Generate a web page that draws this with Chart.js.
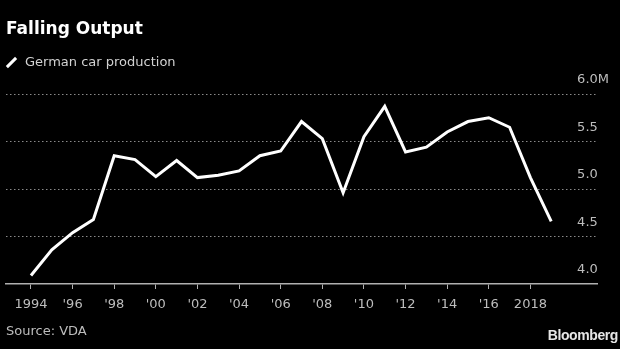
<!DOCTYPE html>
<html>
  <head>
    <title>Falling Output</title>
    <style>
      body {
        margin: 0;
        background: #000;
      }
      .wrap {
        position: relative;
        width: 620px;
        height: 349px;
        background: #000;
        overflow: hidden;
        font-family: "DejaVu Sans", sans-serif;
      }
      .wrap canvas {
        position: absolute;
        left: 0;
        top: 0;
      }
      .title {
        position: absolute;
        left: 6px;
        top: 18px;
        font-size: 17px;
        font-weight: bold;
        color: #fff;
      }
      .legend {
        position: absolute;
        left: 25px;
        top: 54px;
        font-size: 13px;
        color: #d2d2d2;
      }
      .legend-mark {
        position: absolute;
        left: 5px;
        top: 61px;
        width: 13px;
        height: 3px;
        background: #fff;
        transform: rotate(-45deg);
      }
      .source {
        position: absolute;
        left: 6px;
        top: 323px;
        font-size: 13px;
        color: #bdbdbd;
      }
      .brand {
        position: absolute;
        right: 2px;
        top: 327px;
        font-family: "Liberation Sans", Arial, sans-serif;
        font-size: 14px;
        font-weight: bold;
        letter-spacing: -0.4px;
        color: #e6e6e6;
      }
    </style>
  </head>
  <body>
    <div class="wrap">
      <canvas id="chart" width="620" height="349"></canvas>
      <div class="title">Falling Output</div>
      <div class="legend-mark"></div>
      <div class="legend">German car production</div>
      <div class="source">Source: VDA</div>
      <div class="brand">Bloomberg</div>
    </div>

    <script src="https://cdn.jsdelivr.net/npm/chart.js"></script>
    <script>
      // Produccion anual de autos en Alemania (millones)
      var years = [
        1994, 1995, 1996, 1997, 1998, 1999, 2000, 2001, 2002, 2003, 2004,
        2005, 2006, 2007, 2008, 2009, 2010, 2011, 2012, 2013, 2014, 2015,
        2016, 2017, 2018, 2019,
      ];
      var production = [
        4.09, 4.36, 4.54, 4.68, 5.35, 5.31, 5.13, 5.3, 5.12, 5.145, 5.19,
        5.35, 5.4, 5.71, 5.53, 4.96, 5.55, 5.87, 5.39, 5.44, 5.6, 5.71,
        5.75, 5.65, 5.12, 4.66,
      ];

      // Etiquetas de los ejes
      var xTickYears = [
        1994, 1996, 1998, 2000, 2002, 2004, 2006, 2008, 2010, 2012, 2014,
        2016, 2018,
      ];
      var xTickLabels = [
        "1994", "'96", "'98", "'00", "'02", "'04", "'06", "'08", "'10",
        "'12", "'14", "'16", "2018",
      ];
      var yTicks = [4, 4.5, 5, 5.5, 6];
      var yTickLabels = ["4.0", "4.5", "5.0", "5.5", "6.0M"];

      var puntos = years.map(function (y, i) {
        return { x: y, y: production[i] };
      });

      new Chart(document.getElementById("chart"), {
        type: "line",
        data: {
          datasets: [
            {
              label: "German car production",
              data: puntos,
              borderColor: "#fff",
              borderWidth: 3,
              pointRadius: 0,
              tension: 0,
            },
          ],
        },
        options: {
          responsive: false,
          animation: false,
          devicePixelRatio: 1,
          layout: { padding: { top: 94, left: 6, right: 0, bottom: 0 } },
          plugins: {
            legend: { display: false },
            tooltip: { enabled: false },
          },
          scales: {
            x: {
              type: "linear",
              min: 1992.8,
              max: 2021.2,
              afterBuildTicks: function (scale) {
                scale.ticks = xTickYears.map(function (v) {
                  return { value: v };
                });
              },
              afterFit: function (scale) {
                scale.height = 65;
              },
              ticks: {
                color: "#bdbdbd",
                font: { family: "DejaVu Sans", size: 13 },
                padding: 8,
                maxRotation: 0,
                autoSkip: false,
                callback: function (value) {
                  var i = xTickYears.indexOf(value);
                  return i >= 0 ? xTickLabels[i] : "";
                },
              },
              grid: {
                drawOnChartArea: false,
                drawTicks: true,
                tickLength: 5,
                tickColor: "#b0b0b0",
              },
              border: { display: true, color: "#b0b0b0", width: 1.5 },
            },
            y: {
              position: "right",
              min: 4,
              max: 6,
              afterBuildTicks: function (scale) {
                scale.ticks = yTicks.map(function (v) {
                  return { value: v };
                });
              },
              afterFit: function (scale) {
                scale.width = 23;
              },
              ticks: {
                color: "#bdbdbd",
                font: { family: "DejaVu Sans", size: 13 },
                mirror: true,
                crossAlign: "far",
                padding: 12,
                labelOffset: -14,
                callback: function (value) {
                  var i = yTicks.indexOf(value);
                  return i >= 0 ? yTickLabels[i] : "";
                },
              },
              grid: {
                drawTicks: false,
                color: function (ctx) {
                  return ctx.tick && ctx.tick.value === 4
                    ? "rgba(0,0,0,0)"
                    : "#8a8a8a";
                },
                lineWidth: 1,
              },
              border: { display: false, dash: [1.5, 2.5] },
            },
          },
        },
      });
    </script>
  </body>
</html>
